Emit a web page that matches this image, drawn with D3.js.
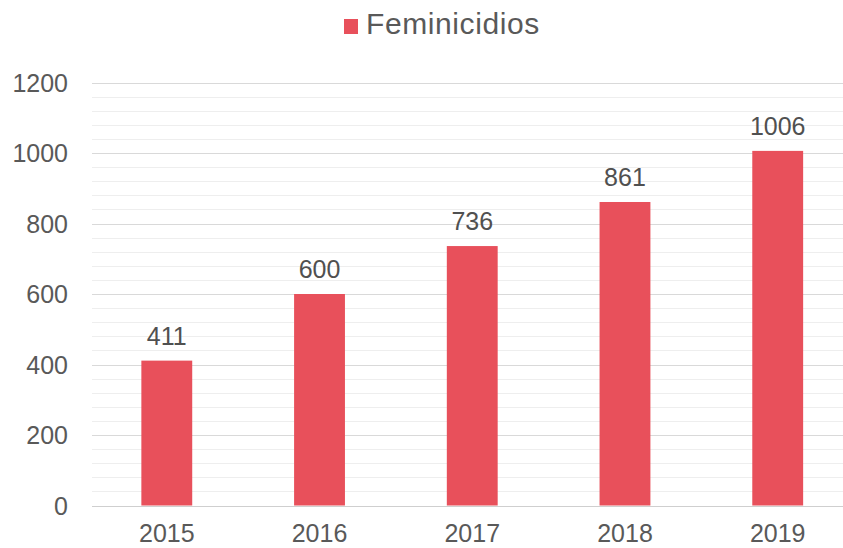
<!DOCTYPE html>
<html><head><meta charset="utf-8">
<script src="https://cdn.jsdelivr.net/npm/d3@7"></script>
<style>body{margin:0;background:#fff}svg{display:block}text{font-family:"Liberation Sans",Arial,sans-serif}</style>
</head><body>
<script>
const categories = ["2015","2016","2017","2018","2019"];
const values = [411, 600, 736, 861, 1006];
const yTicks = [0,200,400,600,800,1000,1200];
const seriesName = "Feminicidios";

const W = 843, H = 548;
const svg = d3.select("body").append("svg").attr("width", W).attr("height", H);
const x = d3.scaleBand().domain(categories).range([90.5, 854]).paddingInner(0.667).paddingOuter(0.333);
const y = d3.scaleLinear().domain([0,1200]).range([505.5, 82.5]);
const gridLeft = 92, gridRight = 843;

// minor grid
const minor = d3.range(0, 1201, 40).filter(v => v % 200 !== 0);
svg.append("g").selectAll("line").data(minor).join("line")
  .attr("x1", gridLeft).attr("x2", gridRight)
  .attr("y1", d => Math.round(y(d))+0.5).attr("y2", d => Math.round(y(d))+0.5)
  .attr("stroke", "#eeeeee").attr("stroke-width", 1);
// major grid
svg.append("g").selectAll("line").data(yTicks).join("line")
  .attr("x1", gridLeft).attr("x2", gridRight)
  .attr("y1", d => Math.round(y(d))+0.5).attr("y2", d => Math.round(y(d))+0.5)
  .attr("stroke", d => d === 0 ? "#cfcfcf" : "#d9d9d9").attr("stroke-width", 1.2);

// y axis labels
const yAxis = d3.axisLeft(y).tickValues(yTicks).tickFormat(d3.format("d")).tickSize(0).tickPadding(0);
const gy = svg.append("g").attr("transform", "translate(68,0)").call(yAxis);
gy.select(".domain").remove();
gy.selectAll("text").attr("font-size", 25).attr("fill", "#595959").attr("dy", "0.35em")
  .style("font-family", "'Liberation Sans',Arial,sans-serif");

// x axis labels
const xAxis = d3.axisBottom(x).tickSize(0).tickPadding(0);
const gx = svg.append("g").attr("transform", "translate(0,542)").call(xAxis);
gx.select(".domain").remove();
gx.selectAll("text").attr("font-size", 25).attr("fill", "#595959").attr("dy", 0)
  .style("font-family", "'Liberation Sans',Arial,sans-serif");

// bars
svg.append("g").selectAll("rect").data(values).join("rect")
  .attr("x", (d,i) => x(categories[i])).attr("width", x.bandwidth())
  .attr("y", d => y(d)).attr("height", d => y(0) - y(d))
  .attr("fill", "#E8505B");

// data labels
svg.append("g").selectAll("text").data(values).join("text")
  .attr("x", (d,i) => x(categories[i]) + x.bandwidth()/2)
  .attr("y", d => y(d) - 16)
  .attr("text-anchor", "middle").attr("font-size", 25).attr("fill", "#505050")
  .text(d => d);

// legend
const lg = svg.append("g");
lg.append("rect").attr("x", 344).attr("y", 19).attr("width", 14).attr("height", 15).attr("fill", "#E8505B");
lg.append("text").attr("x", 366).attr("y", 34).attr("font-size", 30).attr("letter-spacing", 0.6).attr("fill", "#595959").text(seriesName);
</script>
</body></html>
